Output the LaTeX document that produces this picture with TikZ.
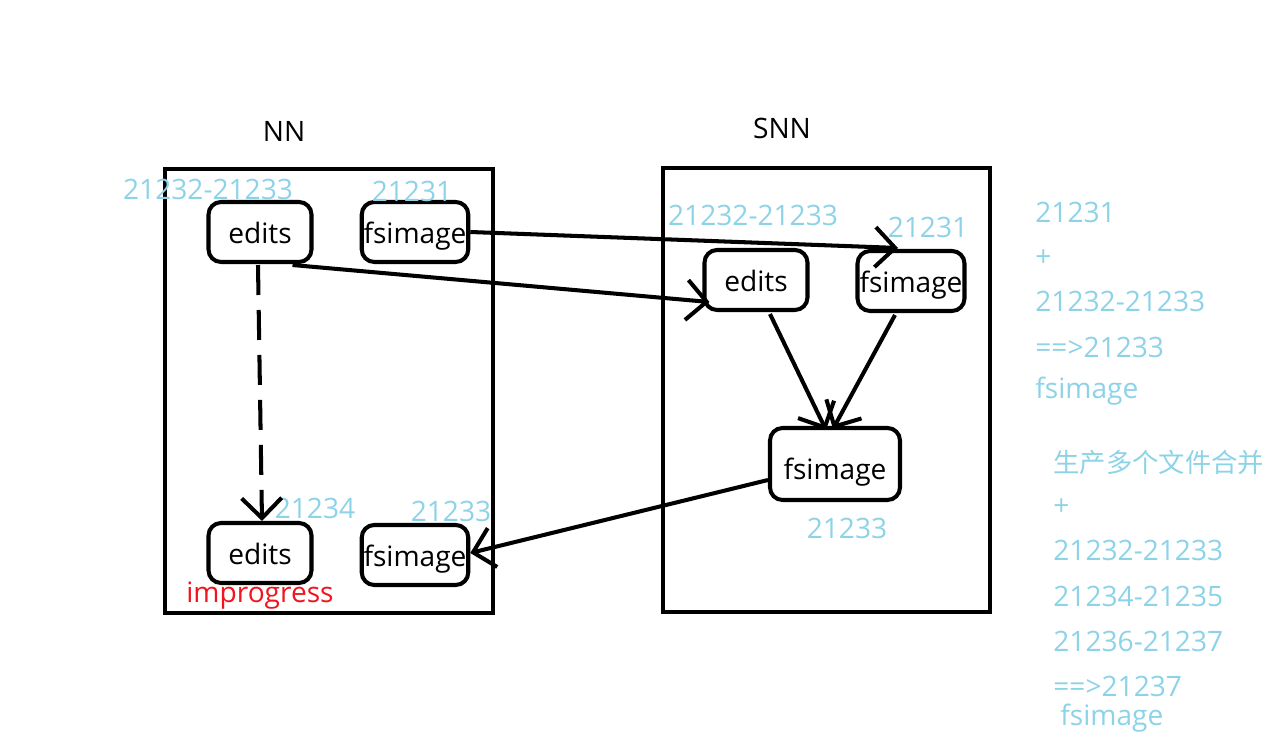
\documentclass[tikz,border=0pt]{standalone}
\usepackage{fontspec}
\setmainfont{Open Sans}
\newfontfamily\cjk{Noto Sans CJK SC}
\usetikzlibrary{calc,arrows.meta}
\definecolor{numblue}{RGB}{141,211,232}
\definecolor{progred}{RGB}{240,20,30}

\begin{document}
\begin{tikzpicture}[
      x=0.02cm, y=-0.02cm,
      font=\fontsize{16}{19}\selectfont,
      server/.style = {draw, line width=2.3pt},
      file/.style = {draw, line width=2.3pt, rounded corners=0.25cm, minimum width=2.06cm, minimum height=1.2cm, inner sep=1pt, text height=17pt, text depth=4pt},
      num/.style = {text=numblue},
      note/.style = {num, anchor=west, inner sep=0pt},
      arr/.style = {line width=2.3pt, -{Straight Barb[length=0.4cm,width=0.8cm]}},
      guess/.style = {arr, dash pattern=on 0.6cm off 0.3cm}
      ]
      \useasboundingbox (0,0) rectangle (1269,756);

      % NN
      \node (nnlabel) at (284,131) {NN};
      \draw[server] (165,169) rectangle (493,613);
      \node[file] (nedits) at (260,232) {edits};
      \node[file] (nfs) at (415,232) {fsimage};
      \node[file] (nedits2) at (260,553) {edits};
      \node[file] (nfs2) at (415,555) {fsimage};
      \node[num] (nrange) at (208,189) {21232-21233};
      \node[num] (nfsnum) at (412,191) {21231};
      \node[num] (nedits2num) at (315,508) {21234};
      \node[num] (nfs2num) at (451,511) {21233};
      \node[text=progred] (progress) at (260,596) {improgress};

      % SNN
      \node (snnlabel) at (782,128) {SNN};
      \draw[server] (663,168) rectangle (990,612);
      \node[file] (sedits) at (756,280) {edits};
      \node[file, minimum width=2.14cm] (sfs) at (911,281) {fsimage};
      \node[file, minimum width=2.6cm, minimum height=1.44cm, text height=22pt] (merged) at (835,464) {fsimage};
      \node[num] (srange) at (753,215) {21232-21233};
      \node[num] (sfsnum) at (928,227) {21231};
      \node[num] (mergednum) at (847,528) {21233};

      % notes
      \foreach \y/\t in {212/21231, 258/+, 301/21232-21233, 347/==>21233, 391/fsimage}
        \node[note] at (1035,\y) {\t};
      \node[note, font=\cjk\fontsize{15}{18}\selectfont] (cjknote) at (1053,462) {生产多个文件合并};
      \foreach \y/\t in {507/+, 550/21232-21233, 596/21234-21235, 641/21236-21237, 686/==>21237}
        \node[note] at (1053,\y) {\t};
      \node[note] at (1060,718) {fsimage};

      \draw[arr] ($(nedits.south east)+(-21,1)$) -- ($(sedits.south west)+(7,-10)$);
      \draw[arr] (nfs.east) -- ($(sfs.north)+(-13,-1)$);
      \draw[arr] ($(sedits.south)+(14,2)$) -- ($(merged.north)+(-9,4)$);
      \draw[arr] ($(sfs.south)+(-16,2)$) -- ($(merged.north)+(-2,3)$);
      \draw[arr] ($(merged.west)+(0,16)$) -- ($(nfs2.east)+(0,-2)$);
      \draw[guess] ($(nedits.south)+(-2,1)$) -- ($(nedits2.north)+(2,0)$);
\end{tikzpicture}
\end{document}
